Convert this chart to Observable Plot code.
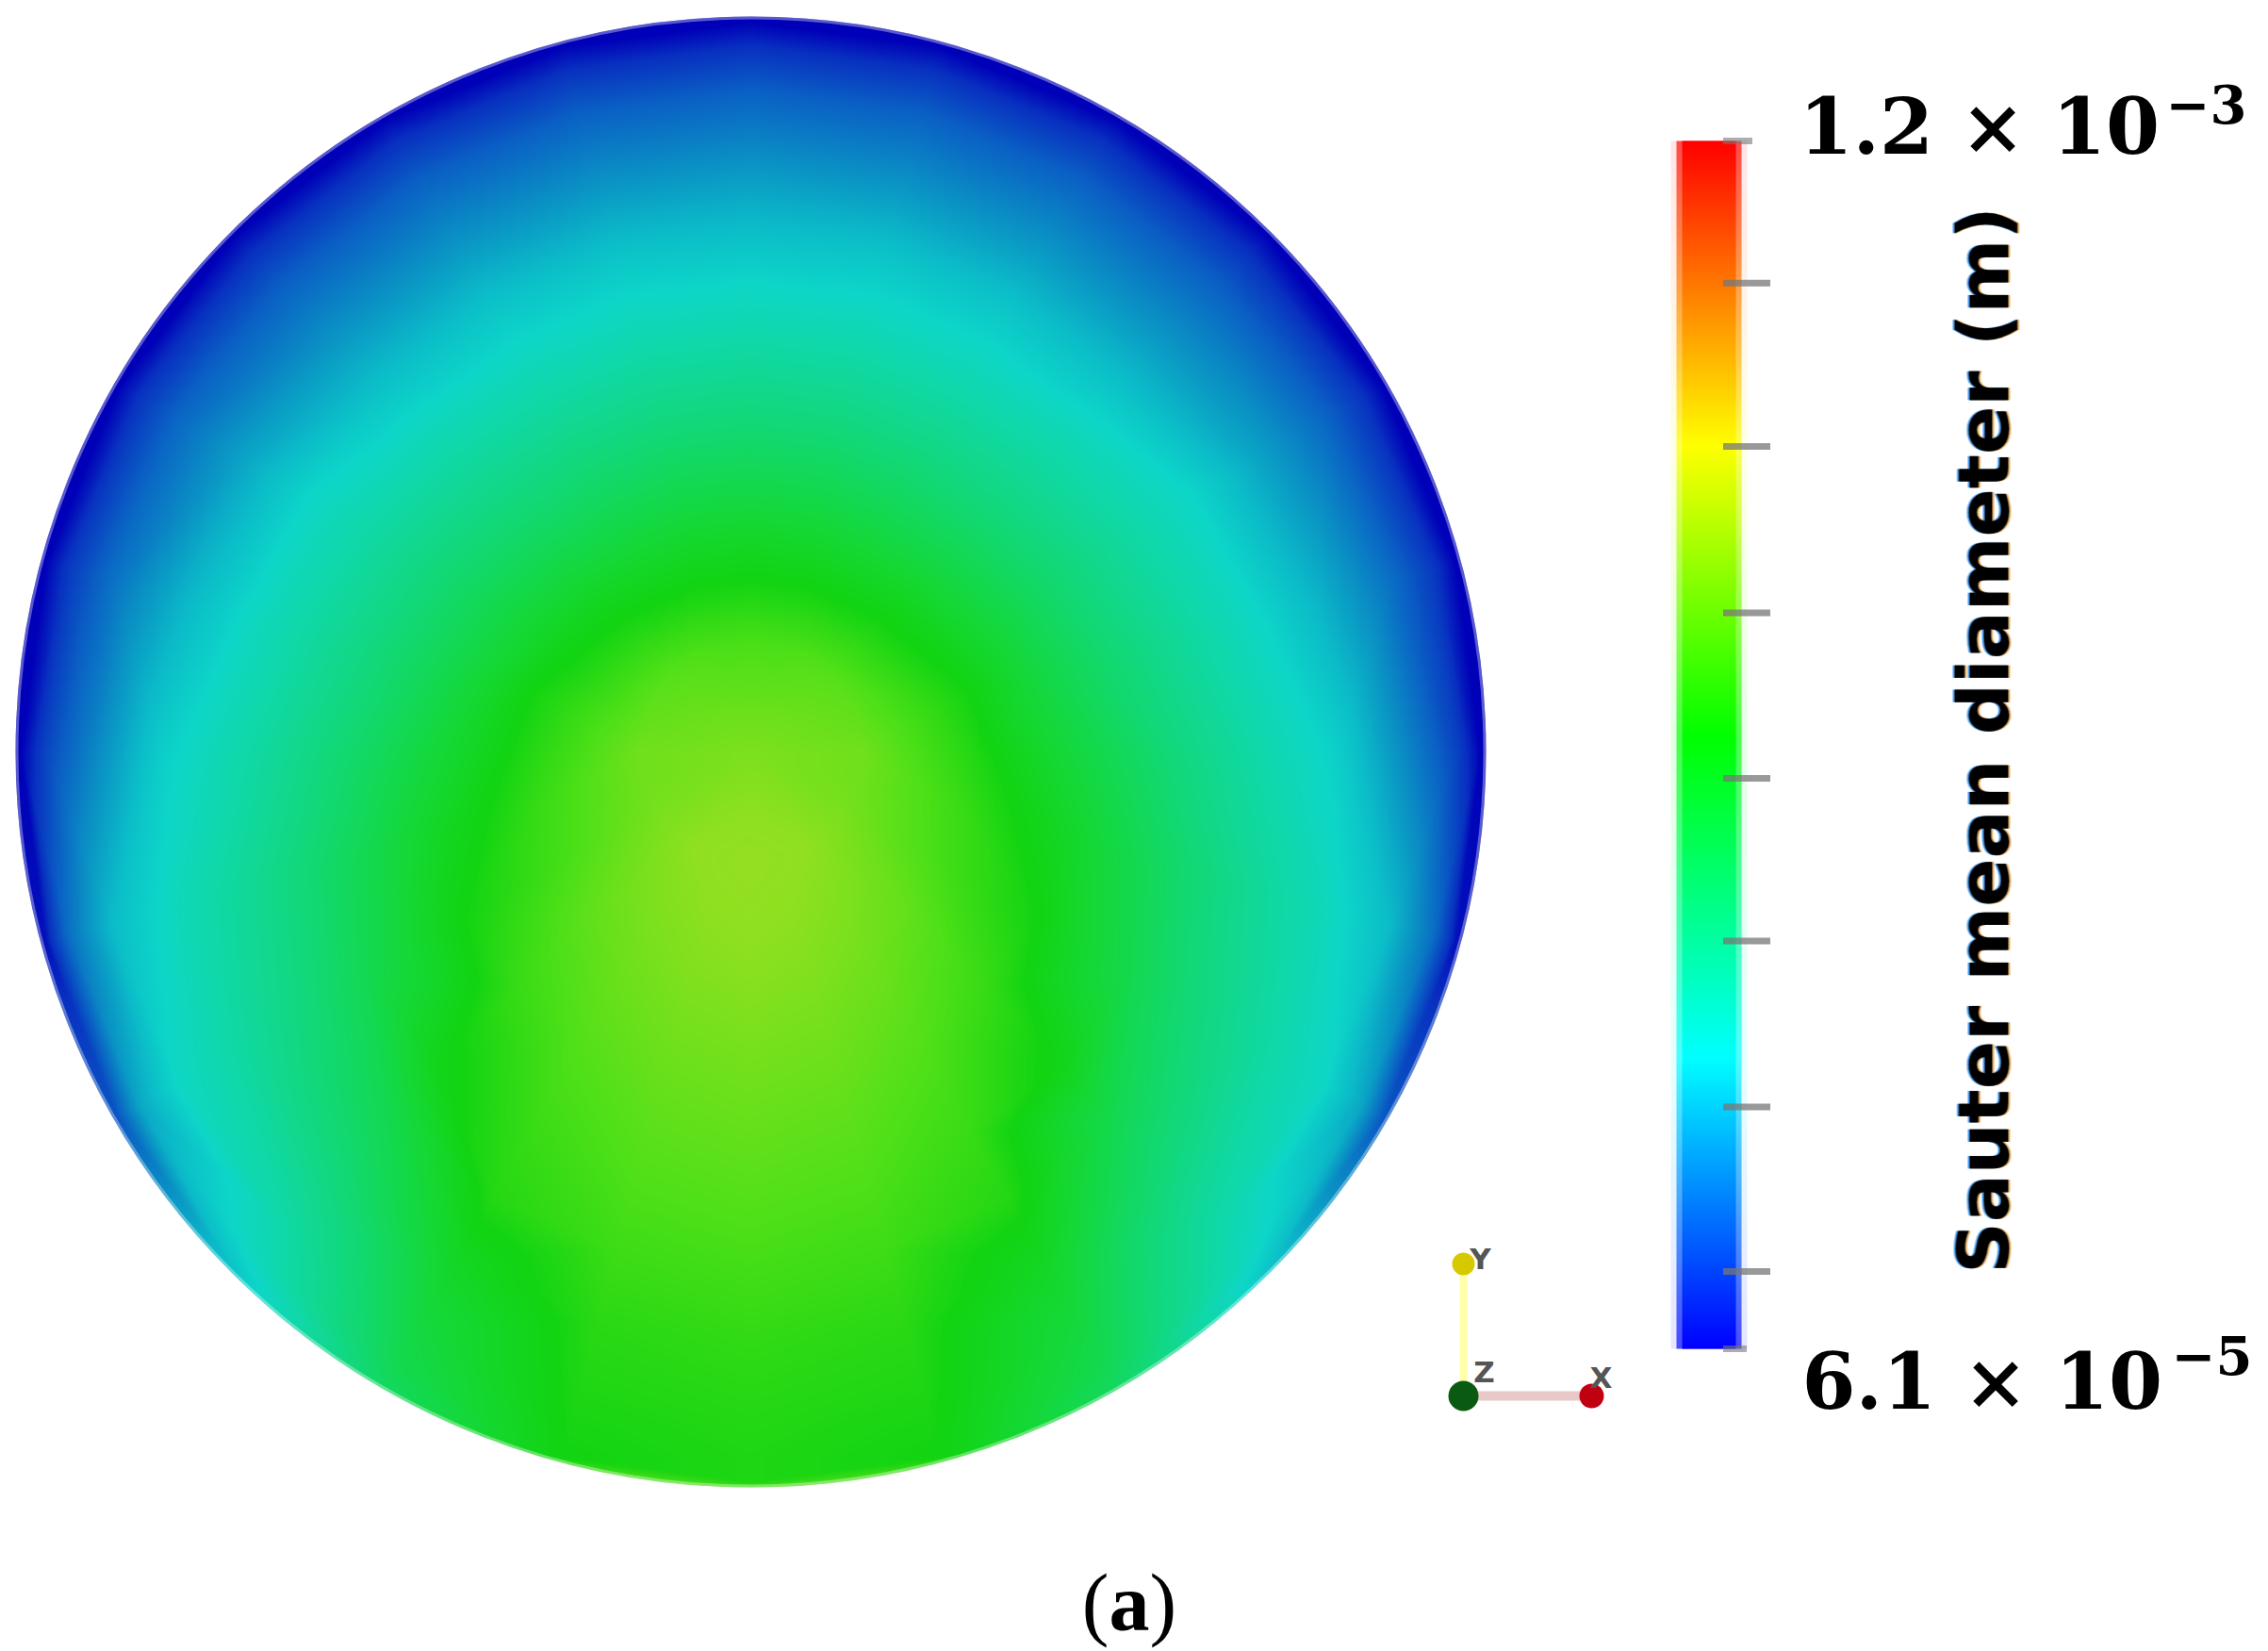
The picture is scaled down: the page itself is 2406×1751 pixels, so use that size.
<!DOCTYPE html>
<html>
<head>
<meta charset="utf-8">
<script src="https://cdn.jsdelivr.net/npm/d3@7"></script>
<script src="https://cdn.jsdelivr.net/npm/@observablehq/plot@0.6"></script>
<style>
html,body{margin:0;padding:0;background:#fff;overflow:hidden}
#wrap{position:relative;width:2406px;height:1751px;background:#fff}
#wrap>svg{position:absolute;top:0}
#caption{position:absolute;left:1098px;top:1650px;width:200px;text-align:center;font:86px/100px "Liberation Serif",serif;color:#000}
</style>
</head>
<body>
<div id="wrap"></div>
<script>
// Disc geometry (pixels of the reference)
const discCentre = {x: 796, y: 797};
const discRadius = 780;

// Radial sample positions (fraction of disc radius)
const ringFractions = [0.15, 0.3, 0.45, 0.6, 0.7, 0.8, 0.9, 0.96, 0.993, 1.04];
// Bearings clockwise from the top of the disc; the left half mirrors them
const bearings = [0, 15, 30, 45, 60, 75, 90, 105, 120, 135, 150, 165, 180];
// Field, as a fraction of the colour bar: one row per bearing, one column per ring
const centreValue = 0.585;
const fieldRows = [
  [0.545, 0.465, 0.37, 0.275, 0.21, 0.145, 0.08, 0.03, 0.00, 0.00],
  [0.545, 0.465, 0.37, 0.275, 0.215, 0.145, 0.08, 0.03, 0.00, 0.00],
  [0.55, 0.465, 0.37, 0.275, 0.215, 0.145, 0.08, 0.03, 0.00, 0.00],
  [0.555, 0.475, 0.375, 0.285, 0.215, 0.145, 0.08, 0.03, 0.00, 0.00],
  [0.56, 0.485, 0.393, 0.303, 0.245, 0.165, 0.09, 0.035, 0.00, 0.00],
  [0.565, 0.505, 0.41, 0.322, 0.262, 0.19, 0.10, 0.04, 0.00, 0.00],
  [0.575, 0.515, 0.437, 0.35, 0.293, 0.235, 0.12, 0.05, 0.00, 0.00],
  [0.575, 0.53, 0.47, 0.386, 0.33, 0.277, 0.20, 0.10, 0.01, 0.01],
  [0.58, 0.54, 0.50, 0.42, 0.363, 0.31, 0.255, 0.17, 0.07, 0.07],
  [0.59, 0.565, 0.53, 0.49, 0.42, 0.365, 0.30, 0.265, 0.22, 0.22],
  [0.60, 0.58, 0.555, 0.53, 0.515, 0.475, 0.44, 0.42, 0.40, 0.42],
  [0.605, 0.59, 0.57, 0.55, 0.535, 0.52, 0.51, 0.503, 0.50, 0.62],
  [0.61, 0.595, 0.575, 0.555, 0.54, 0.525, 0.515, 0.51, 0.51, 0.72]
];
// Shaded palette of the disc (the lit surface is darker than the bar)
const discStops = [0, 0.03, 0.08, 0.14, 0.20, 0.25, 0.30, 0.38, 0.45, 0.50, 0.55, 0.60, 0.72];
const discColors = ["#0000b8", "#0830c0", "#0a60c4", "#0a90c4", "#0bbcc8", "#0dd6c8", "#10d8a8", "#12d870", "#14d838", "#12d412", "#50e018", "#90e020", "#c8d040"];

// Colour bar
const barMin = 6.1e-5;
const barMax = 1.2e-3;
const barStops = [6.1e-5, 3.35e-4, 6.39e-4, 9.13e-4, 1.2e-3];
const barColors = ["#0000ff", "#00ffff", "#00ff00", "#ffff00", "#ff0000"];
const barTicks = [1.34e-4, 2.89e-4, 4.455e-4, 5.99e-4, 7.55e-4, 9.12e-4, 1.066e-3];
const barTitle = "Sauter mean diameter (m)";

// Orientation triad
const triadOrigin = {x: 1552, y: 1480};
const triadY = {axis: "Y", x: 1552, y: 1340, tx: 1570, ty: 1336};
const triadX = {axis: "X", x: 1688, y: 1480, tx: 1698, ty: 1462};
const triadZ = {axis: "Z", tx: 1574, ty: 1456};

const samples = [{x: discCentre.x, y: discCentre.y, v: centreValue}];
for (const side of [1, -1]) {
  bearings.forEach((b, i) => {
    if (side === -1 && (b === 0 || b === 180)) return;
    ringFractions.forEach((f, j) => {
      const a = b * Math.PI / 180;
      samples.push({
        x: discCentre.x + side * Math.sin(a) * f * discRadius,
        y: discCentre.y - Math.cos(a) * f * discRadius,
        v: fieldRows[i][j]
      });
    });
  });
}

const rasterBox = {x: "x", y: "y", fill: "v", x1: 6, x2: 1586, y1: 7, y2: 1587};
const disc = Plot.plot({
  width: 1760, height: 1751,
  marginTop: 0, marginRight: 0, marginBottom: 0, marginLeft: 0,
  style: {background: "transparent"},
  x: {domain: [0, 1760], range: [0, 1760], axis: null},
  y: {domain: [0, 1751], range: [0, 1751], axis: null},
  color: {type: "linear", domain: discStops, range: discColors, interpolate: "rgb"},
  marks: [
    Plot.raster(samples, {...rasterBox, interpolate: "nearest"}),
    Plot.raster(samples, {...rasterBox, interpolate: "barycentric"}),
    Plot.dot([discCentre], {x: "x", y: "y", r: discRadius + 180, fill: "none", stroke: "#fff", strokeWidth: 360}),
    Plot.dot([discCentre], {x: "x", y: "y", r: discRadius - 1.5, fill: "none", stroke: "#fff", strokeWidth: 3, strokeOpacity: 0.35}),
    Plot.link([triadY], {x1: () => triadOrigin.x, y1: () => triadOrigin.y, x2: "x", y2: "y", stroke: "#ffffa8", strokeWidth: 8}),
    Plot.link([triadX], {x1: () => triadOrigin.x, y1: () => triadOrigin.y, x2: "x", y2: "y", stroke: "#e8c8c8", strokeWidth: 10}),
    Plot.dot([triadY], {x: "x", y: "y", r: 12, fill: "#d8c800"}),
    Plot.dot([triadX], {x: "x", y: "y", r: 13, fill: "#c00010"}),
    Plot.dot([triadOrigin], {x: "x", y: "y", r: 16, fill: "#0a5a12"}),
    Plot.text([triadY, triadX, triadZ], {x: "tx", y: "ty", text: "axis", fontSize: 31, fontWeight: "bold", fill: "#555", fontFamily: "DejaVu Sans"})
  ]
});

const barRaster = (x1, x2, extra) => Plot.raster({
  fill: (x, y) => Math.max(barMin, Math.min(barMax, y)),
  x1, x2, y1: barMin, y2: barMax, ...extra
});
const labelFont = {fontFamily: "DejaVu Serif", fontWeight: "bold", fill: "#000", textAnchor: "start", lineAnchor: "bottom"};
const bar = Plot.plot({
  width: 646, height: 1751,
  marginTop: 0, marginRight: 0, marginBottom: 0, marginLeft: 0,
  style: {background: "transparent"},
  x: {domain: [1760, 2406], range: [0, 646], axis: null},
  y: {domain: [barMin, barMax], range: [1430, 149], axis: null},
  color: {type: "linear", domain: barStops, range: barColors, interpolate: "rgb"},
  marks: [
    barRaster(1772, 1853, {opacity: 0.1}),
    barRaster(1778, 1847, {opacity: 0.68}),
    barRaster(1784, 1841, {}),
    Plot.ruleY(barTicks, {x1: 1828, x2: 1878, stroke: "#777", strokeWidth: 7, strokeOpacity: 0.75}),
    Plot.ruleY([barMax], {x1: 1828, x2: 1859, stroke: "#777", strokeWidth: 7, strokeOpacity: 0.6}),
    Plot.ruleY([barMin], {x1: 1828, x2: 1853, stroke: "#777", strokeWidth: 7, strokeOpacity: 0.6}),
    Plot.text(["1.2 × 10"], {x: 1908, y: barMax, dy: 13, fontSize: 82, ...labelFont}),
    Plot.text(["−3"], {x: 2297, y: barMax, dy: -19, fontSize: 56, ...labelFont}),
    Plot.text(["6.1 × 10"], {x: 1911, y: barMin, dy: 63, fontSize: 82, ...labelFont}),
    Plot.text(["−5"], {x: 2303, y: barMin, dy: 27, fontSize: 56, ...labelFont}),
    Plot.text([barTitle], {x: 2130, y: 6.35e-4, rotate: -90, fontSize: 75.6, fontWeight: "bold", fontFamily: "DejaVu Sans", fill: "#000", lineAnchor: "bottom", textAnchor: "middle"})
  ]
});

// Colour fringes seen on the rotated title
d3.select(bar).selectAll("text").filter(function () { return this.textContent === barTitle; })
  .style("filter", "drop-shadow(0 -2px 0 rgba(0,120,235,.7)) drop-shadow(0 2px 0 rgba(215,125,0,.6))");

const wrap = document.getElementById("wrap");
disc.style.left = "0px";
bar.style.left = "1760px";
const caption = document.createElement("div");
caption.id = "caption";
caption.innerHTML = "(<b>a</b>)";
wrap.append(disc, bar, caption);
</script>
</body>
</html>
